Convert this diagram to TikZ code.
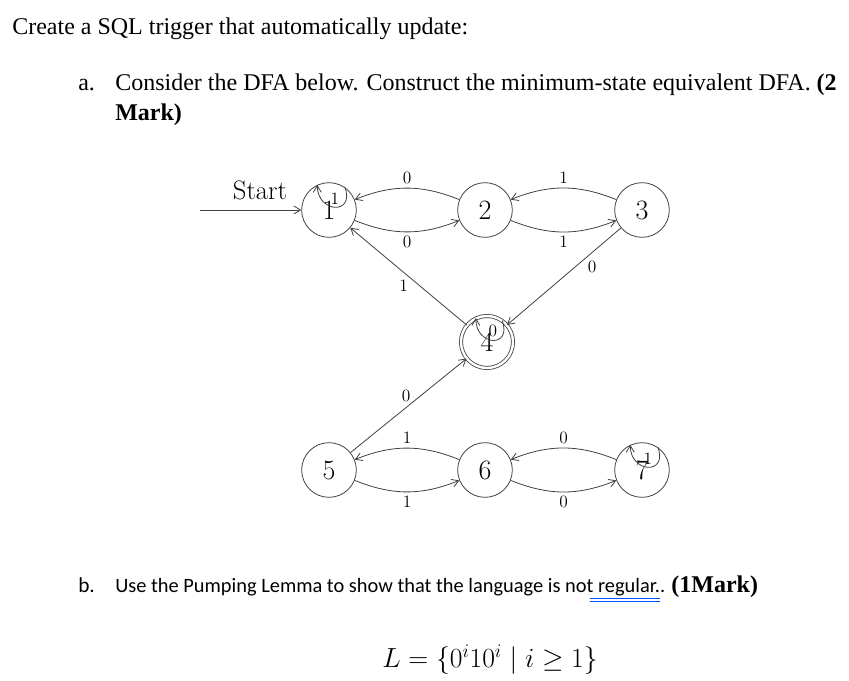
\documentclass[tikz,border=0pt]{standalone}
\usepackage{fontspec}
\usepackage{amsmath}
\newfontfamily\tnr{Liberation Serif}
\newfontfamily\calfnt{Carlito}
\usetikzlibrary{arrows.meta}
\begin{document}
\begin{tikzpicture}[x=0.75pt,y=-0.75pt,
  st/.style={circle,draw=black!75,line width=0.6pt,minimum size=41pt,inner sep=0pt,font=\fontsize{21}{22}\selectfont},
  acc/.style={st,double,double distance=1.8pt,minimum size=39pt},
  tr/.style={draw=black!75,line width=0.6pt,-{Straight Barb[length=5pt,width=6pt]}},
  lb/.style={font=\fontsize{13}{14}\selectfont,inner sep=1pt},
  txt/.style={anchor=base west,inner sep=0pt,font=\tnr\fontsize{18}{20}\selectfont}]
\useasboundingbox (0,0) rectangle (849,681);
\node[txt] (t1) at (12,35) {Create a SQL trigger that automatically update:};
\node[txt] (ta) at (78,91) {a.};
\node[txt] (ta1) at (115,91) {Consider the DFA below. Construct the minimum-state equivalent DFA. \textbf{(2}};
\node[txt] (ta2) at (115,121) {\textbf{Mark)}};
\node (s1) [st] at (329,210) {1};
\node (s2) [st] at (485,210) {2};
\node (s3) [st] at (642,210) {3};
\node (s4) [acc] at (487,342) {4};
\node (s5) [st] at (329,470) {5};
\node (s6) [st] at (485,470) {6};
\node (s7) [st] at (642,470) {7};
\coordinate (st0) at (200,210);
\draw[tr] (st0) -- (s1);
\node[font=\fontsize{20}{22}\selectfont] (stl) at (260,190) {Start};
\draw[tr] (s1.55) .. controls +(70:30) and +(90:28) .. node[lb,above=1pt] {1} (s1.115);
\draw[tr] (s4.55) .. controls +(70:30) and +(90:28) .. node[lb,above=1pt] {0} (s4.115);
\draw[tr] (s7.55) .. controls +(70:30) and +(90:28) .. node[lb,above=1pt] {1} (s7.115);
\draw[tr] (s2) to[bend right=22] node[lb,above=2pt] {0} (s1);
\draw[tr] (s1) to[bend right=22] node[lb,below=2pt] {0} (s2);
\draw[tr] (s3) to[bend right=22] node[lb,above=2pt] {1} (s2);
\draw[tr] (s2) to[bend right=22] node[lb,below=2pt] {1} (s3);
\draw[tr] (s4) -- node[lb,left=8pt,pos=0.4] {1} (s1);
\draw[tr] (s3) -- node[lb,right=8pt,pos=0.4] {0} (s4);
\draw[tr] (s5) -- node[lb,left=6pt,pos=0.6] {0} (s4);
\draw[tr] (s6) to[bend right=22] node[lb,above=2pt] {1} (s5);
\draw[tr] (s5) to[bend right=22] node[lb,below=2pt] {1} (s6);
\draw[tr] (s7) to[bend right=22] node[lb,above=2pt] {0} (s6);
\draw[tr] (s6) to[bend right=22] node[lb,below=2pt] {0} (s7);
\node[txt] (tb) at (78,592) {\calfnt\fontsize{16}{18}\selectfont b.};
\node[txt] (tb1) at (115,592) {\calfnt\fontsize{15.3}{17}\selectfont Use the Pumping Lemma to show that the language is not regular.. \tnr\fontsize{18}{20}\selectfont\textbf{(1Mark)}};
\draw[blue!70!cyan,line width=0.6pt] (590,598) -- (660,598) (590,601) -- (660,601);
\node[font=\fontsize{20.5}{22}\selectfont] (L) at (490,660) {$L=\{0^i10^i \mid i\geq 1\}$};
\end{tikzpicture}
\end{document}
